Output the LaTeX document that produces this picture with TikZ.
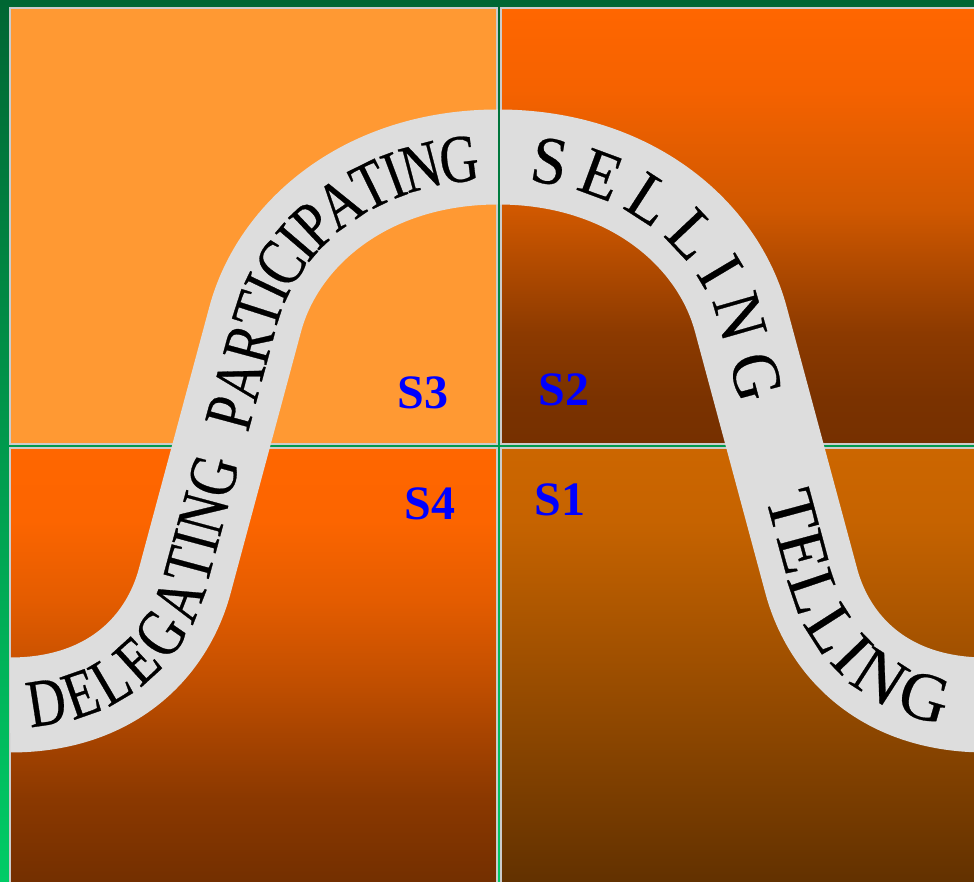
\documentclass[tikz,border=0pt]{standalone}
\usepackage{fontspec}
\setmainfont{Liberation Serif}
\newfontfamily\condfont[FakeStretch=0.79,FakeBold=0.4]{Liberation Serif}
\newfontfamily\midserif[FakeStretch=0.94,FakeBold=0.4]{Liberation Serif}
\newfontfamily\wideserif[FakeStretch=1.0,FakeBold=0.4]{Liberation Serif}
\usetikzlibrary{decorations.text}
\definecolor{gtop}{HTML}{006633}
\definecolor{gbot}{HTML}{00CC66}
\definecolor{tlfill}{HTML}{FF9933}
\definecolor{bandgray}{HTML}{DDDDDD}
\definecolor{framegray}{HTML}{CCCCCC}
\definecolor{labelblue}{HTML}{0000FF}
% top-right shading
\definecolor{trA}{HTML}{FF6600}
\definecolor{trB}{HTML}{F56200}
\definecolor{trC}{HTML}{D05800}
\definecolor{trD}{HTML}{B04A00}
\definecolor{trE}{HTML}{8C3A00}
\definecolor{trF}{HTML}{7A3200}
\definecolor{trG}{HTML}{763000}
\pgfdeclareverticalshading{trshade}{100bp}{color(0bp)=(trG); color(25bp)=(trG); color(30.1bp)=(trF); color(37.8bp)=(trE); color(45.3bp)=(trD); color(51.9bp)=(trC); color(65.6bp)=(trB); color(75bp)=(trA); color(100bp)=(trA)}
% bottom-left shading
\definecolor{blA}{HTML}{FF6600}
\definecolor{blB}{HTML}{FC6500}
\definecolor{blC}{HTML}{E45C00}
\definecolor{blD}{HTML}{C24F00}
\definecolor{blE}{HTML}{A54300}
\definecolor{blF}{HTML}{8A3800}
\definecolor{blG}{HTML}{732F00}
\pgfdeclareverticalshading{blshade}{100bp}{color(0bp)=(blG); color(25bp)=(blG); color(34.6bp)=(blF); color(41.5bp)=(blE); color(48.4bp)=(blD); color(57.6bp)=(blC); color(66.7bp)=(blB); color(75bp)=(blA); color(100bp)=(blA)}
% bottom-right shading
\definecolor{brA}{HTML}{CC6600}
\definecolor{brB}{HTML}{C66300}
\definecolor{brC}{HTML}{623100}
\pgfdeclareverticalshading{brshade}{100bp}{color(0bp)=(brC); color(25bp)=(brC); color(66.7bp)=(brB); color(75bp)=(brA); color(100bp)=(brA)}
\tikzset{
  quad/.style={draw=framegray, line width=2pt},
  band/.style={draw=bandgray, line width=95pt, line join=round},
  slabel/.style={text=labelblue, inner sep=0pt, font=\fontsize{48}{48}\selectfont\bfseries},
}
\begin{document}
\begin{tikzpicture}[x=1pt,y=1pt]
\useasboundingbox (0,0) rectangle (974,881);
\clip (0,0) rectangle (974,881);
% green background
\shade[top color=gtop, bottom color=gbot] (0,0) rectangle (974,881);
% quadrants
\filldraw[quad, fill=tlfill] (10,873) rectangle (496.5,436.5);
\shadedraw[quad, shading=trshade] (501,873) rectangle (980,436.5);
\shadedraw[quad, shading=blshade] (10,433) rectangle (496.5,-3);
\shadedraw[quad, shading=brshade] (501,433) rectangle (980,-3);
% band, left half
\begin{scope}
\clip (10,-10) rectangle (497.8,900);
\draw[band] (10,176) .. controls (110,176) and (167,233) .. (185,301) -- (255,561) .. controls (278,648) and (367,724) .. (498,724);
\end{scope}
% band, right half
\begin{scope}
\clip (500,-10) rectangle (990,900);
\draw[band] (498,724) .. controls (629,724) and (718,648) .. (741,561) -- (811,301) .. controls (829,233) and (886,176) .. (986,176);
\end{scope}
% texts along the band
\path[decorate, decoration={text along path, text={|\condfont\fontsize{68}{68}\selectfont|DELEGATING}, text align={left indent=17pt}, raise=-22.5pt}]
  (10,176) .. controls (110,176) and (167,233) .. (185,301) -- (255,561) .. controls (278,648) and (367,724) .. (498,724);
\path[decorate, decoration={text along path, text={|\condfont\fontsize{68}{68}\selectfont|PARTICIPATING}, text align={left indent=391pt}, raise=-22.5pt}]
  (10,176) .. controls (110,176) and (167,233) .. (185,301) -- (255,561) .. controls (278,648) and (367,724) .. (498,724);
\path[decorate, decoration={text along path, text={|\midserif\fontsize{68}{68}\selectfont|S E L L I N G}, text align={left indent=34pt}, raise=-22.5pt}]
  (498,724) .. controls (629,724) and (718,648) .. (741,561) -- (811,301) .. controls (829,233) and (886,176) .. (986,176);
\path[decorate, decoration={text along path, text={|\wideserif\fontsize{68}{68}\selectfont|TELLING}, text align={left indent=492pt}, raise=-22.5pt}]
  (498,724) .. controls (629,724) and (718,648) .. (741,561) -- (811,301) .. controls (829,233) and (886,176) .. (986,176);
% labels
\node[slabel] (s3) at (423,488) {S3};
\node[slabel] (s2) at (564,491) {S2};
\node[slabel] (s4) at (430,377) {S4};
\node[slabel] (s1) at (560,381) {S1};
\end{tikzpicture}
\end{document}
